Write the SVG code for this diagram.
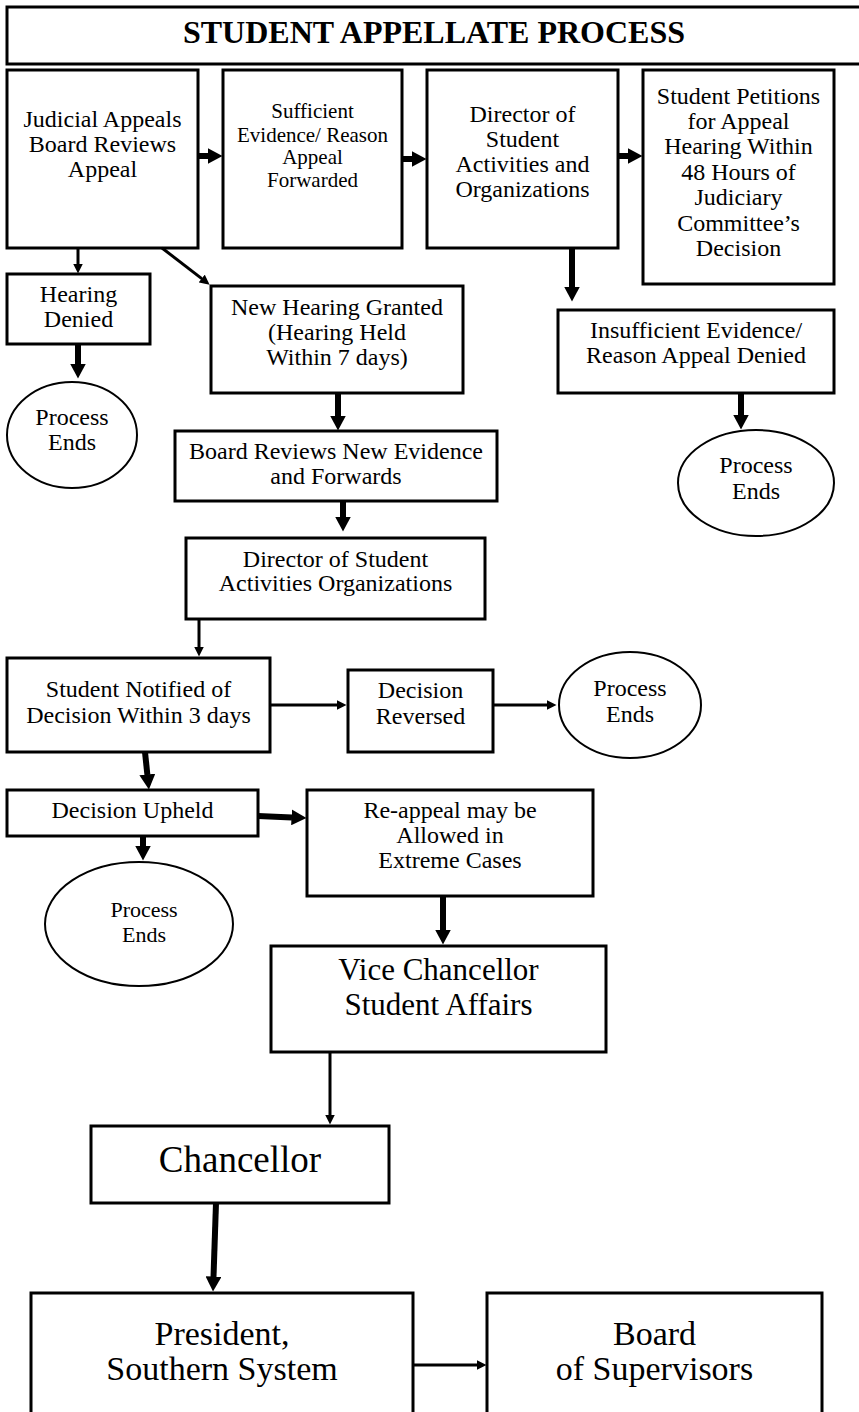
<svg xmlns="http://www.w3.org/2000/svg" width="859" height="1412" viewBox="0 0 859 1412">
<style>
.box{fill:#fff;stroke:#000;stroke-width:3}
.ell{fill:#fff;stroke:#000;stroke-width:2}
text{fill:#000;text-anchor:middle}
.t24{font-size:24px}
.t21{font-size:21px}
.t22{font-size:22px}
.thick{stroke:#000;stroke-width:6;fill:none;marker-end:url(#hb)}
.thin{stroke:#000;stroke-width:3;fill:none;marker-end:url(#hs)}
</style>
<defs>
<marker id="hb" markerUnits="userSpaceOnUse" viewBox="0 0 15 16" markerWidth="15" markerHeight="16" refX="0.5" refY="8" orient="auto"><path d="M0,0 L15,8 L0,16 z" fill="#000"/></marker>
<marker id="hs" markerUnits="userSpaceOnUse" viewBox="0 0 10 10" markerWidth="10" markerHeight="10" refX="0.5" refY="5" orient="auto"><path d="M0,0 L10,5 L0,10 z" fill="#000"/></marker>
</defs>
<rect width="859" height="1412" fill="#fff"/>
<g font-family="Liberation Serif, Times New Roman, serif">

<g id="title">
<rect class="box" x="7" y="7" width="870" height="57"/>
<text x="434" y="43" font-size="32" font-weight="bold">STUDENT APPELLATE PROCESS</text>
</g>

<g id="n-judicial">
<rect class="box" x="7" y="70" width="191" height="178"/>
<text class="t24" x="102.5" y="127">Judicial Appeals</text>
<text class="t24" x="102.5" y="152">Board Reviews</text>
<text class="t24" x="102.5" y="177">Appeal</text>
</g>

<g id="n-sufficient">
<rect class="box" x="223" y="70" width="179" height="178"/>
<text class="t21" x="312.5" y="118">Sufficient</text>
<text class="t21" x="312.5" y="142">Evidence/ Reason</text>
<text class="t21" x="312.5" y="164">Appeal</text>
<text class="t21" x="312.5" y="187">Forwarded</text>
</g>

<g id="n-director1">
<rect class="box" x="427" y="70" width="191" height="178"/>
<text class="t24" x="522.5" y="122">Director of</text>
<text class="t24" x="522.5" y="147">Student</text>
<text class="t24" x="522.5" y="172">Activities and</text>
<text class="t24" x="522.5" y="197">Organizations</text>
</g>

<g id="n-petition">
<rect class="box" x="643" y="70" width="191" height="214"/>
<text class="t24" x="738.5" y="104">Student Petitions</text>
<text class="t24" x="738.5" y="129">for Appeal</text>
<text class="t24" x="738.5" y="154">Hearing Within</text>
<text class="t24" x="738.5" y="180">48 Hours of</text>
<text class="t24" x="738.5" y="205">Judiciary</text>
<text class="t24" x="738.5" y="231">Committee’s</text>
<text class="t24" x="738.5" y="256">Decision</text>
</g>

<g id="n-hearing-denied">
<rect class="box" x="7" y="274" width="143" height="70"/>
<text class="t24" x="78.5" y="302">Hearing</text>
<text class="t24" x="78.5" y="327">Denied</text>
</g>

<g id="n-end1">
<ellipse class="ell" cx="72" cy="435" rx="65" ry="53"/>
<text class="t24" x="72" y="425">Process</text>
<text class="t24" x="72" y="450">Ends</text>
</g>

<g id="n-new-hearing">
<rect class="box" x="211" y="286" width="252" height="107"/>
<text class="t24" x="337" y="315">New Hearing Granted</text>
<text class="t24" x="337" y="340">(Hearing Held</text>
<text class="t24" x="337" y="365">Within 7 days)</text>
</g>

<g id="n-insufficient">
<rect class="box" x="558" y="310" width="276" height="83"/>
<text class="t24" x="696" y="338">Insufficient Evidence/</text>
<text class="t24" x="696" y="363">Reason Appeal Denied</text>
</g>

<g id="n-end2">
<ellipse class="ell" cx="756" cy="483" rx="78" ry="53"/>
<text class="t24" x="756" y="473">Process</text>
<text class="t24" x="756" y="499">Ends</text>
</g>

<g id="n-board-reviews">
<rect class="box" x="175" y="431" width="322" height="70"/>
<text class="t24" x="336" y="459">Board Reviews New Evidence</text>
<text class="t24" x="336" y="484">and Forwards</text>
</g>

<g id="n-director2">
<rect class="box" x="186" y="538" width="299" height="81"/>
<text class="t24" x="335.5" y="567">Director of Student</text>
<text class="t24" x="335.5" y="591">Activities Organizations</text>
</g>

<g id="n-notified">
<rect class="box" x="7" y="658" width="263" height="94"/>
<text class="t24" x="138.5" y="697">Student Notified of</text>
<text class="t24" x="138.5" y="723">Decision Within 3 days</text>
</g>

<g id="n-reversed">
<rect class="box" x="348" y="670" width="145" height="82"/>
<text class="t24" x="420.5" y="698">Decision</text>
<text class="t24" x="420.5" y="724">Reversed</text>
</g>

<g id="n-end3">
<ellipse class="ell" cx="630" cy="705" rx="71" ry="53"/>
<text class="t24" x="630" y="696">Process</text>
<text class="t24" x="630" y="722">Ends</text>
</g>

<g id="n-upheld">
<rect class="box" x="7" y="790" width="251" height="46"/>
<text class="t24" x="132.5" y="818">Decision Upheld</text>
</g>

<g id="n-reappeal">
<rect class="box" x="307" y="790" width="286" height="106"/>
<text class="t24" x="450" y="818">Re-appeal may be</text>
<text class="t24" x="450" y="843">Allowed in</text>
<text class="t24" x="450" y="868">Extreme Cases</text>
</g>

<g id="n-end4">
<ellipse class="ell" cx="139" cy="924" rx="94" ry="62"/>
<text class="t22" x="144" y="917">Process</text>
<text class="t22" x="144" y="942">Ends</text>
</g>

<g id="n-vice">
<rect class="box" x="271" y="946" width="335" height="106"/>
<text x="438.5" y="980" font-size="31">Vice Chancellor</text>
<text x="438.5" y="1015" font-size="31">Student Affairs</text>
</g>

<g id="n-chancellor">
<rect class="box" x="91" y="1126" width="298" height="77"/>
<text x="240" y="1172" font-size="37">Chancellor</text>
</g>

<g id="n-president">
<rect class="box" x="31" y="1293" width="382" height="130"/>
<text x="222" y="1345" font-size="34">President,</text>
<text x="222" y="1380" font-size="34">Southern System</text>
</g>

<g id="n-board-sup">
<rect class="box" x="487" y="1293" width="335" height="130"/>
<text x="654.5" y="1345" font-size="34">Board</text>
<text x="654.5" y="1380" font-size="34">of Supervisors</text>
</g>
</g>

<g id="connectors">
<line class="thick" x1="198" y1="156" x2="208" y2="156"/>
<line class="thick" x1="402" y1="159" x2="412" y2="159"/>
<line class="thick" x1="618" y1="156" x2="628" y2="156"/>
<line class="thick" x1="572" y1="248" x2="572" y2="287"/>
<line class="thick" x1="741" y1="393" x2="741" y2="415"/>
<line class="thick" x1="78" y1="344" x2="78" y2="364"/>
<line class="thick" x1="338" y1="393" x2="338" y2="416"/>
<line class="thick" x1="343" y1="501" x2="343" y2="517"/>
<line class="thick" x1="145" y1="752" x2="147.4" y2="775"/>
<line class="thick" x1="143" y1="836" x2="143" y2="846"/>
<line class="thick" x1="258" y1="816" x2="292" y2="817.4"/>
<line class="thick" x1="443" y1="896" x2="443" y2="930"/>
<line class="thick" x1="216" y1="1203" x2="213.5" y2="1277"/>
<line class="thin" x1="78" y1="248" x2="78" y2="264"/>
<line class="thin" x1="162" y1="248" x2="202.1" y2="278.9"/>
<line class="thin" x1="199" y1="619" x2="199" y2="647"/>
<line class="thin" x1="270" y1="705" x2="337" y2="705"/>
<line class="thin" x1="493" y1="705" x2="547" y2="705"/>
<line class="thin" x1="330" y1="1052" x2="330" y2="1115"/>
<line class="thin" x1="413" y1="1365" x2="477" y2="1365"/>
</g>
</svg>
